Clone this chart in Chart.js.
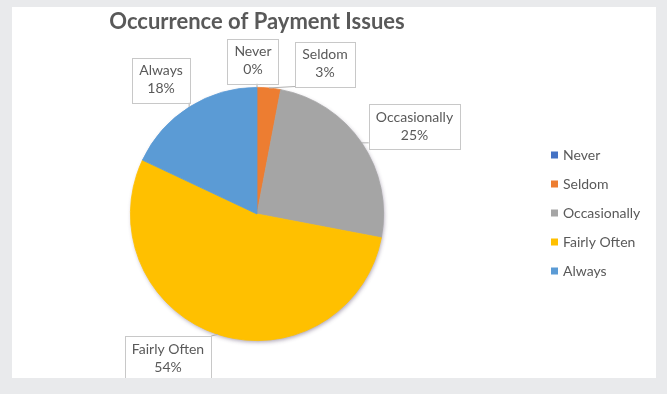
<!DOCTYPE html>
<html>
<head>
<meta charset="utf-8">
<script src="https://cdn.jsdelivr.net/npm/chart.js@4/dist/chart.umd.min.js"></script>
<style>
  html, body { margin: 0; padding: 0; width: 667px; height: 394px; overflow: hidden; background: #e9eaec; }
  #panel { position: absolute; left: 12px; top: 7px; width: 644px; height: 371px; background: #ffffff; overflow: hidden; }
  canvas { display: block; }
</style>
</head>
<body>
<div id="panel"><canvas id="chart" width="644" height="371"></canvas></div>
<script>
// Survey answers and their share of responses (%)
const categories = ['Never', 'Seldom', 'Occasionally', 'Fairly Often', 'Always'];
const shares = [0, 3, 25, 54, 18];
const sliceColors = ['#4472C4', '#ED7D31', '#A5A5A5', '#FFC000', '#5B9BD5'];
const chartTitle = 'Occurrence of Payment Issues';

// Where each callout box sits, relative to the pie centre (px)
const calloutOffsets = [[-4, -153], [68, -150], [157.5, -87.5], [-89, 144.5], [-96, -134]];

const FONT = 'Lato, "Liberation Sans", sans-serif';
const TEXT_COLOR = '#595959';

// Soft drop shadow under the whole pie
const pieShadow = {
  id: 'pieShadow',
  beforeDatasetsDraw(chart) {
    const arc = chart.getDatasetMeta(0).data[0];
    if (!arc) return;
    const { x, y, outerRadius } = arc.getProps(['x', 'y', 'outerRadius'], true);
    const ctx = chart.ctx;
    ctx.save();
    ctx.shadowColor = 'rgba(60,40,80,0.45)';
    ctx.shadowBlur = 4;
    ctx.shadowOffsetX = 1;
    ctx.shadowOffsetY = 2;
    ctx.fillStyle = '#ffffff';
    ctx.beginPath();
    ctx.arc(x, y, outerRadius - 0.5, 0, Math.PI * 2);
    ctx.fill();
    ctx.restore();
  }
};

// Title, callout boxes with leader lines, and the legend column
const decorations = {
  id: 'decorations',
  afterDatasetsDraw(chart) {
    const ctx = chart.ctx;
    const meta = chart.getDatasetMeta(0);
    const total = shares.reduce((a, b) => a + b, 0);

    // title
    ctx.save();
    ctx.font = 'bold 22px ' + FONT;
    ctx.fillStyle = TEXT_COLOR;
    ctx.textAlign = 'center';
    ctx.textBaseline = 'middle';
    ctx.fillText(chartTitle, meta.data[0].x, 15);
    ctx.restore();

    // callouts
    meta.data.forEach((arc, i) => {
      const p = arc.getProps(['x', 'y', 'startAngle', 'endAngle', 'outerRadius'], true);
      const mid = (p.startAngle + p.endAngle) / 2;
      const ax = p.x + Math.cos(mid) * p.outerRadius;
      const ay = p.y + Math.sin(mid) * p.outerRadius;
      const pct = Math.round(shares[i] / total * 100) + '%';
      const lines = [categories[i], pct];

      ctx.save();
      ctx.font = '14px ' + FONT;
      const w = Math.max(...lines.map(t => ctx.measureText(t).width)) + 14;
      const h = 45;
      const bx = p.x + calloutOffsets[i][0] - w / 2;
      const by = p.y + calloutOffsets[i][1] - h / 2;

      // leader line to the nearest edge of the box
      const nx = Math.min(Math.max(ax, bx), bx + w);
      const ny = Math.min(Math.max(ay, by), by + h);
      if (Math.hypot(nx - ax, ny - ay) > 2) {
        ctx.strokeStyle = '#b0b0b0';
        ctx.lineWidth = 1;
        ctx.beginPath();
        ctx.moveTo(nx, ny);
        ctx.lineTo(ax, ay);
        ctx.stroke();
      }

      ctx.fillStyle = '#ffffff';
      ctx.fillRect(bx, by, w, h);
      ctx.strokeStyle = '#c8c8c8';
      ctx.lineWidth = 1;
      ctx.strokeRect(Math.round(bx) + 0.5, Math.round(by) + 0.5, Math.round(w), Math.round(h));

      ctx.fillStyle = TEXT_COLOR;
      ctx.textAlign = 'center';
      ctx.textBaseline = 'middle';
      ctx.fillText(lines[0], bx + w / 2, by + 13);
      ctx.fillText(lines[1], bx + w / 2, by + 31);
      ctx.restore();
    });

    // legend
    ctx.save();
    ctx.font = '14px ' + FONT;
    ctx.textBaseline = 'middle';
    ctx.textAlign = 'left';
    categories.forEach((name, i) => {
      const y = 148 + 29 * i;
      ctx.fillStyle = sliceColors[i];
      ctx.fillRect(539, y - 3.5, 7, 7);
      ctx.fillStyle = TEXT_COLOR;
      ctx.fillText(name, 551, y);
    });
    ctx.restore();
  }
};

new Chart(document.getElementById('chart'), {
  type: 'pie',
  data: {
    labels: categories,
    datasets: [{
      data: shares,
      backgroundColor: sliceColors,
      borderColor: sliceColors,
      borderWidth: ctx => (shares[ctx.dataIndex] > 0 ? 0.8 : 0)
    }]
  },
  options: {
    responsive: false,
    animation: false,
    layout: { padding: { left: 118, right: 272, top: 80, bottom: 37 } },
    plugins: {
      legend: { display: false },
      title: { display: false },
      tooltip: { enabled: false }
    }
  },
  plugins: [pieShadow, decorations]
});
</script>
</body>
</html>
